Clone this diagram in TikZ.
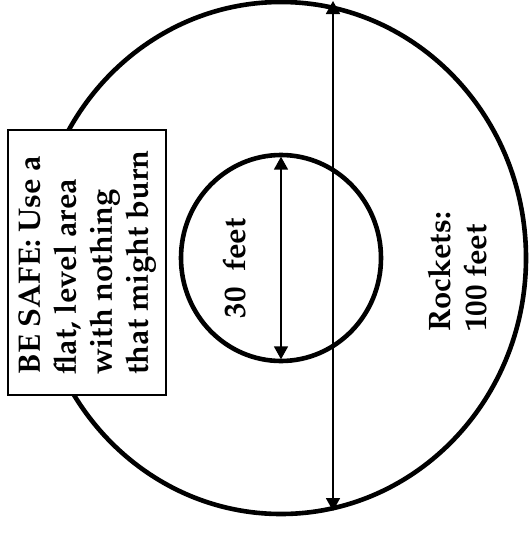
\documentclass[tikz,border=0pt]{standalone}
\usepackage[T1]{fontenc}
\usepackage{mathpazo}
\usetikzlibrary{arrows.meta,shapes.geometric}
\tikzset{
  ring/.style={draw,ellipse,line width=4.6pt,inner sep=0pt},
  bigtext/.style={font=\bfseries\fontsize{31}{36}\selectfont},
  safebox/.style={draw,line width=1.5pt,rotate=90,align=left,bigtext,
    minimum width=265pt,minimum height=158pt,inner sep=0pt},
  sidelabel/.style={rotate=90,align=left,bigtext},
  dimarrow/.style={{Triangle[length=13pt,width=14pt]}-{Triangle[length=13pt,width=14pt]},line width=1.8pt}
}

\begin{document}
\begin{tikzpicture}[x=1pt,y=-1pt]
  \useasboundingbox (0,0) rectangle (530,533);
  \node[ring,minimum width=490pt,minimum height=512pt] (outer) at (281,258) {};
  \node[ring,minimum width=200pt,minimum height=206pt] (inner) at (281,258) {};
  \node[safebox,fill=white] (safe) at (87,262.5)
    {BE SAFE: Use a\\flat, level area\\with nothing\\that might burn};
  \node[sidelabel,anchor=base] (small) at (245,268.5) {30\ \ feet};
  \node[sidelabel] (rockets) at (457,272) {Rockets:\\100 feet};
  \coordinate (up) at (333,1);
  \coordinate (down) at (333,511);
  \draw[dimarrow] (up) -- (down);
  \draw[dimarrow,shorten <=4pt,shorten >=4pt] (inner.north) -- (inner.south);
\end{tikzpicture}
\end{document}
